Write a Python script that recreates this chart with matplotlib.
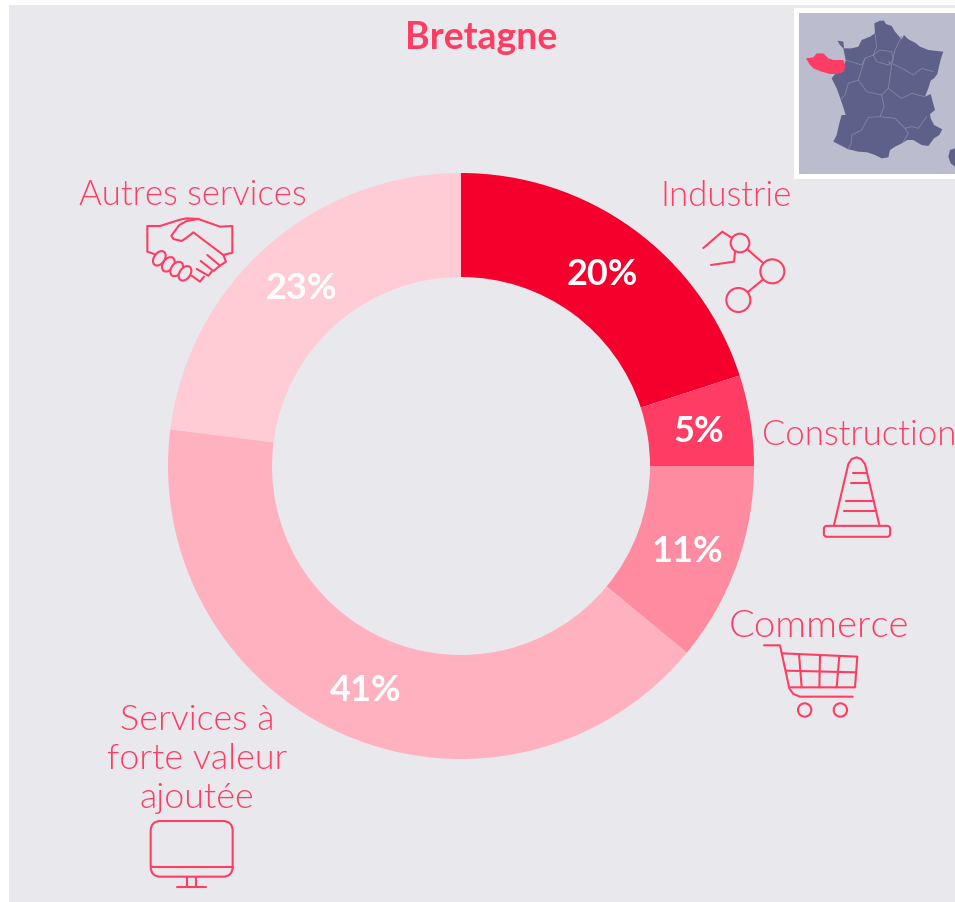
import matplotlib
matplotlib.use("Agg")
import matplotlib.pyplot as plt
import numpy as np
from matplotlib.patches import Circle, Ellipse, FancyBboxPatch, Polygon, Rectangle

W, H = 955, 902
title = "Bretagne"
categories = ["Industrie", "Construction", "Commerce", "Services à\nforte valeur\najoutée", "Autres services"]
values = [20, 5, 11, 41, 23]
colors = ["#F5002D", "#FF3D64", "#FF8BA0", "#FFB1BF", "#FFCBD5"]
ACC = "#FF3D64"
BG = "#E9E9ED"
FONT = ["Lato", "DejaVu Sans"]

fig = plt.figure(figsize=(W / 100, H / 100), dpi=100, facecolor="white")
bg = fig.add_axes([0, 0, 1, 1])
bg.set_xlim(0, W); bg.set_ylim(H, 0); bg.axis("off")
bg.add_patch(Rectangle((9, 5), W - 9, H - 5, fc=BG, ec="none"))

# donut
cx, cy, R, r = 461, 466, 293, 189
pa = fig.add_axes([(cx - R) / W, 1 - (cy + R) / H, 2 * R / W, 2 * R / H])
wedges, _, autos = pa.pie(values, colors=colors, startangle=90, counterclock=False, radius=1,
                          wedgeprops=dict(width=(R - r) / R, linewidth=0),
                          autopct=lambda p: f"{p:.0f}%", pctdistance=(R + r) / 2 / R,
                          textprops=dict(color="white", fontsize=26, fontweight="bold", family=FONT))
pa.set_xlim(-1, 1); pa.set_ylim(-1, 1)
for t in autos:
    x, y = t.get_position()
    t.set_position((x, y - 0.012))

ov = fig.add_axes([0, 0, 1, 1], facecolor="none")
ov.set_xlim(0, W); ov.set_ylim(H, 0); ov.axis("off")

ov.text(481, 38, title, color=ACC, fontsize=27, fontweight="bold", family=FONT, ha="center", va="center")
lab = dict(color=ACC, family=FONT, va="center", fontweight=300)
ov.text(726, 196, categories[0], ha="center", fontsize=25, **lab)
ov.text(762, 435, categories[1], ha="left", fontsize=25, **lab)
ov.text(819, 627, categories[2], ha="center", fontsize=27.5, **lab)
for i, line in enumerate(categories[3].split("\n")):
    ov.text(197, 720 + 39 * i, line, ha="center", fontsize=25.8, **lab)
ov.text(193, 195, categories[4], ha="center", fontsize=25, **lab)

LW = 1.5
def pl(ox, oy, pts, lw=LW, color=ACC, closed=False):
    a = np.array(pts, float) / 3 + [ox, oy]
    if closed:
        a = np.vstack([a, a[0]])
    ov.plot(a[:, 0], a[:, 1], color=color, lw=lw, solid_capstyle="round", solid_joinstyle="round")
def circ(ox, oy, x, y, rad):
    ov.add_patch(Circle((ox + x / 3, oy + y / 3), rad / 3, fc="none", ec=ACC, lw=LW))

# industry icon
o = (690, 220)
circ(*o, 150, 69, 28); circ(*o, 247, 154, 36); circ(*o, 145, 240, 36)
pl(*o, [(172, 88), (217, 127)]); pl(*o, [(217, 180), (175, 215)])
pl(*o, [(40, 84), (97, 35), (123, 52)]); pl(*o, [(135, 95), (132, 125), (63, 135)])

# handshake icon
o = (130, 205)
pl(*o, [(90, 63), (52, 63), (52, 140), (75, 148)])
pl(*o, [(90, 63), (150, 44), (170, 40), (205, 42), (270, 65), (307, 63), (307, 143), (280, 150)])
pl(*o, [(205, 42), (170, 48), (148, 60), (124, 92), (130, 102), (155, 108), (170, 98), (190, 82),
        (280, 150), (288, 170), (270, 182), (232, 150)])
pl(*o, [(270, 182), (250, 198), (212, 168)])
pl(*o, [(245, 200), (235, 212), (200, 192)])
pl(*o, [(222, 215), (210, 230), (185, 212)])
for x, y in [(88, 160), (115, 178), (140, 192), (165, 205)]:
    ov.add_patch(Ellipse((o[0] + x / 3, o[1] + y / 3), 48 / 3, 32 / 3, angle=-55, fc=BG, ec=ACC, lw=LW))

# cart icon
o = (750, 640)
pl(*o, [(42, 16), (90, 16), (118, 145), (130, 162), (150, 170), (308, 170)])
pl(*o, [(97, 40), (322, 50), (315, 142), (122, 142)])
pl(*o, [(108, 92), (318, 97)])
pl(*o, [(147, 42), (155, 142)]); pl(*o, [(210, 45), (208, 142)]); pl(*o, [(268, 48), (260, 142)])
circ(*o, 164, 210, 20); circ(*o, 271, 210, 20)

# cone icon
o = (810, 450)
pl(*o, [(72, 225), (115, 42), (125, 27), (140, 22), (153, 27), (165, 42), (208, 225)])
ov.add_patch(FancyBboxPatch((o[0] + 50 / 3, o[1] + 236 / 3), 182 / 3, 16 / 3,
                            boxstyle="round,pad=2.8,rounding_size=3", fc="none", ec=ACC, lw=LW))
for x0, x1, y in [(128, 168, 70), (122, 175, 100), (108, 188, 152), (102, 195, 182)]:
    pl(*o, [(x0, y), (x1, y)])

# monitor icon
o = (135, 810)
ov.add_patch(FancyBboxPatch((o[0] + 47 / 3 + 10, o[1] + 33 / 3 + 10), 246 / 3 - 20, 167 / 3 - 20,
                            boxstyle="round,pad=10,rounding_size=10", fc="none", ec=ACC, lw=LW))
pl(*o, [(47, 170), (293, 170)])
pl(*o, [(155, 200), (155, 232)]); pl(*o, [(183, 200), (183, 232)]); pl(*o, [(125, 232), (213, 232)])

# inset map (decorative)
o = (780, 0)
ov.add_patch(Rectangle((794, 8), 161, 171, fc="white", ec="none"))
ov.add_patch(Rectangle((798.5, 13), 157, 161, fc="#BBBCCE", ec="none"))
MAP = "#5D6088"
france = [(283, 70), (300, 62), (312, 62), (318, 72), (335, 78), (345, 95), (358, 110), (365, 118), (372, 105),
          (385, 118), (405, 128), (420, 140), (445, 150), (490, 155), (483, 175), (478, 195), (472, 222),
          (462, 235), (452, 242), (445, 265), (435, 290), (452, 282), (458, 305), (465, 330), (450, 342),
          (452, 355), (462, 375), (487, 388), (478, 405), (462, 415), (445, 438), (425, 435), (400, 420),
          (382, 420), (365, 430), (345, 440), (330, 450), (325, 472), (305, 475), (285, 465), (262, 457),
          (235, 455), (215, 450), (205, 448), (180, 435), (160, 425), (170, 405), (178, 370), (185, 345),
          (197, 345), (190, 322), (182, 298), (170, 265), (155, 235), (165, 222), (190, 215), (197, 180),
          (190, 145), (180, 135), (172, 122), (190, 125), (192, 145), (215, 145), (235, 140), (245, 120),
          (270, 110), (285, 100)]
ov.add_patch(Polygon(np.array(france) / 3 + o, fc=MAP, ec="none"))
corsica = [(525, 445), (510, 450), (505, 470), (512, 490), (525, 500)]
ov.add_patch(Polygon(np.array(corsica) / 3 + o, fc=MAP, ec="none"))
borders = [
    [(285, 100), (290, 140), (280, 165), (255, 175), (235, 240), (260, 275), (305, 285), (325, 265), (335, 195), (325, 185)],
    [(365, 110), (345, 150), (335, 190), (375, 210), (400, 225), (425, 205), (460, 215)],
    [(280, 165), (290, 185), (325, 195), (340, 180), (335, 155), (300, 150), (280, 165)],
    [(197, 180), (245, 195), (255, 175)],
    [(235, 240), (205, 250), (195, 285), (182, 298)],
    [(325, 265), (350, 285), (365, 295), (395, 280), (435, 290)],
    [(305, 285), (312, 320), (300, 350), (265, 352), (245, 390), (215, 405), (215, 425), (205, 448)],
    [(300, 350), (345, 355), (375, 385), (395, 380), (415, 385), (440, 350)],
    [(375, 385), (385, 400), (370, 425)],
]
for b in borders:
    pl(*o, b, lw=0.6, color="#8487A5")
bret = [(78, 175), (100, 172), (110, 160), (130, 160), (145, 175), (160, 180), (190, 180), (197, 200), (190, 215),
        (170, 222), (150, 222), (125, 215), (100, 205), (88, 192)]
ov.add_patch(Polygon(np.array(bret) / 3 + o, fc=ACC, ec="none"))

fig.savefig("out.png", dpi=100, facecolor="white")
